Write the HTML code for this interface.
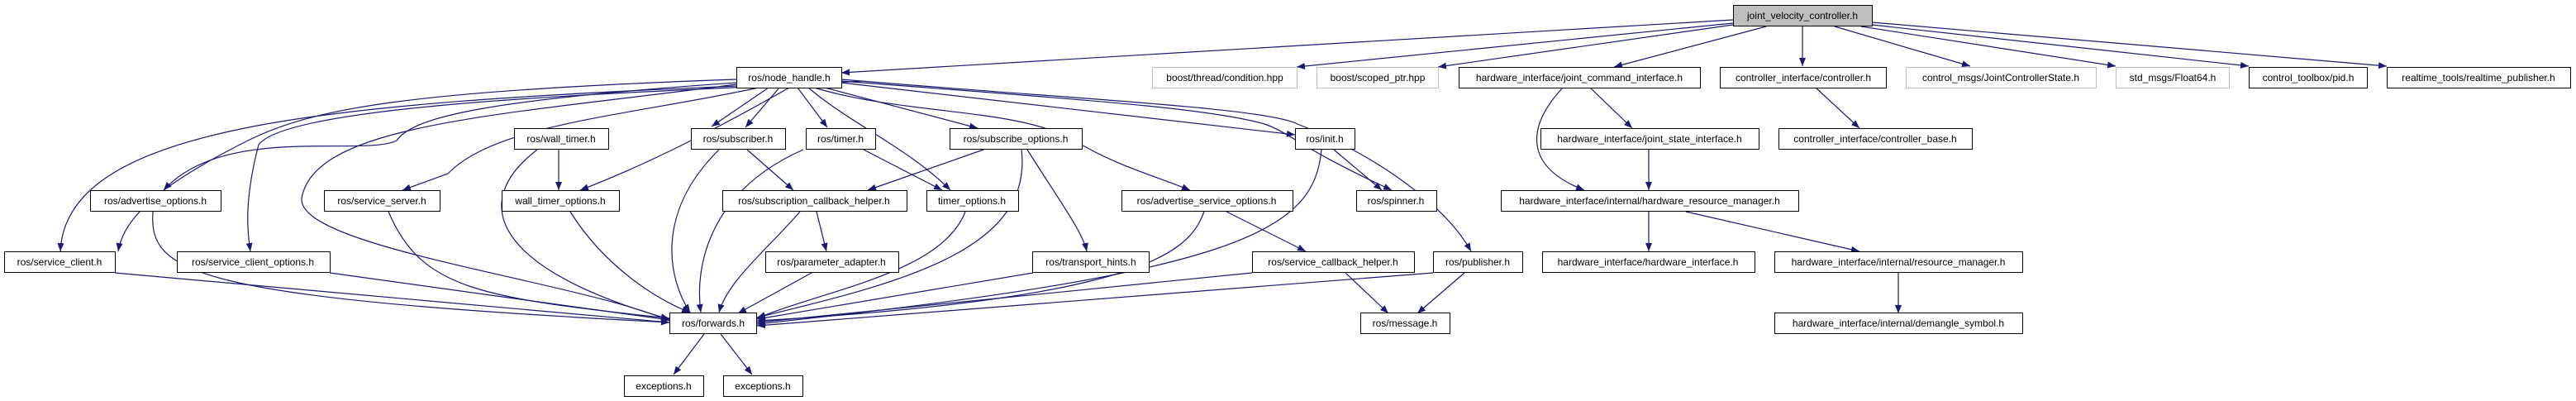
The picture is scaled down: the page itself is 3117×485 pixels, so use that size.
<!DOCTYPE html>
<html><head><meta charset="utf-8"><style>
html,body{margin:0;padding:0;background:#fff;width:3117px;height:485px;overflow:hidden}
svg{display:block}
text{font-family:"Liberation Sans",sans-serif;font-size:12px;fill:#000}
.e{fill:none;stroke:#191970;stroke-width:1.2}
</style></head><body>
<svg width="3117" height="485" viewBox="0 0 3117 485" xmlns="http://www.w3.org/2000/svg">
<defs><marker id="a" markerWidth="10" markerHeight="8" refX="10" refY="4" orient="auto" markerUnits="userSpaceOnUse"><path d="M0,0 L10,4 L0,8 z" fill="#191970"/></marker></defs>
<g class="e" marker-end="url(#a)">
<!-- from JVC -->
<path d="M2097,24 L1018,88"/>
<path d="M2097,28 L1569,81"/>
<path d="M2097,30 L1740,81"/>
<path d="M2137,32 L1953,81"/>
<path d="M2181,32 L2181,80"/>
<path d="M2220,32 L2384,80"/>
<path d="M2252,32 L2560,80"/>
<path d="M2265,30 L2721,80"/>
<path d="M2265,27 L2888,80"/>
<!-- from NH -->
<path d="M930,106 L861,153"/>
<path d="M943,106 L902,154"/>
<path d="M965,106 L1001,154"/>
<path d="M998,106 L1183,155"/>
<path d="M1018,100 L1567,163"/>
<path d="M1018,98 C1300,120 1460,130 1530,150 C1560,160 1575,180 1684,230"/>
<path d="M1018,96 C1300,120 1530,130 1570,150 C1670,190 1750,250 1780,304"/>
<path d="M985,106 C1100,140 1230,130 1300,170 C1350,200 1390,210 1440,230"/>
<path d="M978,106 C1030,150 1100,180 1150,230"/>
<path d="M955,106 C860,160 780,200 702,230"/>
<path d="M918,106 C760,140 600,150 542,210 L487,230"/>
<path d="M891,100 C600,120 500,140 480,170 C440,190 270,150 198,230"/>
<path d="M891,96 C500,110 380,130 300,170 C200,220 150,260 143,304"/>
<path d="M891,98 C700,110 200,120 160,175 C140,250 148,290 150,304" transform="translate(153,0)"/>
<path d="M891,102 C600,140 380,150 365,240 C360,300 700,340 810,388"/>
<path d="M891,104 C400,125 80,150 73,304"/>
<!-- row3 -->
<path d="M676,181 L676,230"/>
<path d="M650,181 C560,250 610,330 810,386"/>
<path d="M870,181 C790,260 810,340 835,378"/>
<path d="M904,181 L960,230"/>
<path d="M972,181 C860,230 840,320 848,378"/>
<path d="M1045,181 L1140,230"/>
<path d="M1190,181 L1050,230"/>
<path d="M1243,181 C1280,240 1310,280 1315,304"/>
<path d="M1236,181 C1250,300 1100,340 916,384"/>
<path d="M1614,181 L1672,230"/>
<path d="M1599,181 C1590,280 1500,330 916,392"/>
<path d="M1891,106 C1850,150 1840,200 1917,230"/>
<path d="M1924,106 L1975,155"/>
<path d="M1995,181 L1995,230"/>
<path d="M2197,106 L2250,155"/>
<!-- row4 -->
<path d="M185,256 C180,330 230,360 810,390"/>
<path d="M470,256 C510,350 580,360 810,385"/>
<path d="M690,256 C730,320 790,360 835,378"/>
<path d="M968,256 C930,300 880,340 870,378"/>
<path d="M988,256 L1000,304"/>
<path d="M1168,256 C1140,330 1000,350 916,385"/>
<path d="M1457,256 C1440,300 1400,360 916,388"/>
<path d="M1484,256 L1580,304"/>
<path d="M1995,256 L1995,304"/>
<path d="M2040,256 L2250,304"/>
<!-- row5 -->
<path d="M139,330 L810,390"/>
<path d="M399,330 L810,387"/>
<path d="M982,330 L893,379"/>
<path d="M1250,330 L916,386"/>
<path d="M1515,330 L916,390"/>
<path d="M1628,330 L1680,379"/>
<path d="M1734,330 L916,394"/>
<path d="M1772,330 L1715,379"/>
<path d="M2297,330 L2297,379"/>
<!-- fwd -->
<path d="M852,404 L815,453"/>
<path d="M872,404 L910,453"/>
</g>
<g stroke="#000" stroke-width="1" fill="#fff">
<rect x="2097.5" y="6.5" width="168" height="25" fill="#bfbfbf"/>
<rect x="891.5" y="81.5" width="127" height="25"/>
<rect x="1394.5" y="81.5" width="175" height="25" stroke="#bfbfbf"/>
<rect x="1593.5" y="81.5" width="147" height="25" stroke="#bfbfbf"/>
<rect x="1765.5" y="81.5" width="292" height="25"/>
<rect x="2081.5" y="81.5" width="201" height="25"/>
<rect x="2306.5" y="81.5" width="230" height="25" stroke="#bfbfbf"/>
<rect x="2560.5" y="81.5" width="137" height="25" stroke="#bfbfbf"/>
<rect x="2721.5" y="81.5" width="143" height="25"/>
<rect x="2888.5" y="81.5" width="222" height="25"/>
<rect x="622.5" y="155.5" width="114" height="25"/>
<rect x="836.5" y="155.5" width="114" height="25"/>
<rect x="975.5" y="155.5" width="84" height="25"/>
<rect x="1149.5" y="155.5" width="160" height="25"/>
<rect x="1567.5" y="155.5" width="72" height="25"/>
<rect x="1864.5" y="155.5" width="264" height="25"/>
<rect x="2152.5" y="155.5" width="234" height="25"/>
<rect x="109.5" y="230.5" width="158" height="25"/>
<rect x="392.5" y="230.5" width="140" height="25"/>
<rect x="607.5" y="230.5" width="142" height="25"/>
<rect x="874.5" y="230.5" width="223" height="25"/>
<rect x="1121.5" y="230.5" width="111" height="25"/>
<rect x="1357.5" y="230.5" width="207" height="25"/>
<rect x="1641.5" y="230.5" width="97" height="25"/>
<rect x="1816.5" y="230.5" width="360" height="25"/>
<rect x="5.5" y="304.5" width="134" height="25"/>
<rect x="214.5" y="304.5" width="185" height="25"/>
<rect x="926.5" y="304.5" width="161" height="25"/>
<rect x="1249.5" y="304.5" width="141" height="25"/>
<rect x="1515.5" y="304.5" width="196" height="25"/>
<rect x="1734.5" y="304.5" width="108" height="25"/>
<rect x="1866.5" y="304.5" width="257" height="25"/>
<rect x="2147.5" y="304.5" width="300" height="25"/>
<rect x="810.5" y="378.5" width="105" height="25"/>
<rect x="1646.5" y="378.5" width="108" height="25"/>
<rect x="2147.5" y="378.5" width="300" height="25"/>
<rect x="755.5" y="454.5" width="96" height="25"/>
<rect x="875.5" y="454.5" width="96" height="25"/>
</g>
<g text-anchor="middle">
<text x="2181" y="23">joint_velocity_controller.h</text>
<text x="955" y="98">ros/node_handle.h</text>
<text x="1482" y="98">boost/thread/condition.hpp</text>
<text x="1667" y="98">boost/scoped_ptr.hpp</text>
<text x="1911" y="98">hardware_interface/joint_command_interface.h</text>
<text x="2182" y="98">controller_interface/controller.h</text>
<text x="2421" y="98">control_msgs/JointControllerState.h</text>
<text x="2629" y="98">std_msgs/Float64.h</text>
<text x="2793" y="98">control_toolbox/pid.h</text>
<text x="2999" y="98">realtime_tools/realtime_publisher.h</text>
<text x="679" y="172">ros/wall_timer.h</text>
<text x="893" y="172">ros/subscriber.h</text>
<text x="1017" y="172">ros/timer.h</text>
<text x="1229" y="172">ros/subscribe_options.h</text>
<text x="1603" y="172">ros/init.h</text>
<text x="1996" y="172">hardware_interface/joint_state_interface.h</text>
<text x="2269" y="172">controller_interface/controller_base.h</text>
<text x="188" y="247">ros/advertise_options.h</text>
<text x="462" y="247">ros/service_server.h</text>
<text x="678" y="247">wall_timer_options.h</text>
<text x="985" y="247">ros/subscription_callback_helper.h</text>
<text x="1176" y="247">timer_options.h</text>
<text x="1460" y="247">ros/advertise_service_options.h</text>
<text x="1689" y="247">ros/spinner.h</text>
<text x="1996" y="247">hardware_interface/internal/hardware_resource_manager.h</text>
<text x="72" y="321">ros/service_client.h</text>
<text x="306" y="321">ros/service_client_options.h</text>
<text x="1006" y="321">ros/parameter_adapter.h</text>
<text x="1320" y="321">ros/transport_hints.h</text>
<text x="1613" y="321">ros/service_callback_helper.h</text>
<text x="1788" y="321">ros/publisher.h</text>
<text x="1994" y="321">hardware_interface/hardware_interface.h</text>
<text x="2297" y="321">hardware_interface/internal/resource_manager.h</text>
<text x="863" y="395">ros/forwards.h</text>
<text x="1700" y="395">ros/message.h</text>
<text x="2297" y="395">hardware_interface/internal/demangle_symbol.h</text>
<text x="803" y="471">exceptions.h</text>
<text x="923" y="471">exceptions.h</text>
</g>
</svg>
</body></html>
